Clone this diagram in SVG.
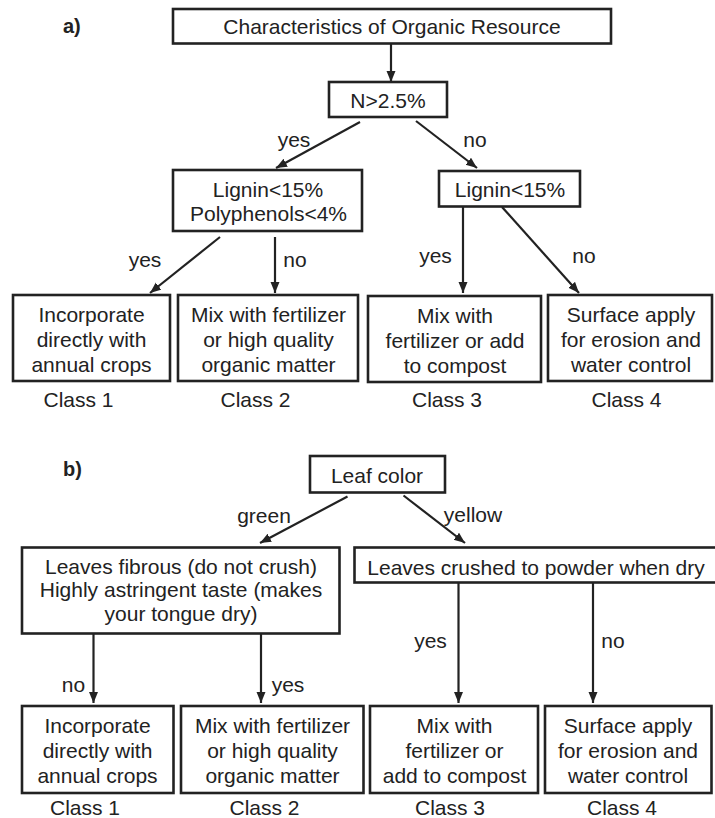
<svg xmlns="http://www.w3.org/2000/svg" width="715" height="818" viewBox="0 0 715 818">
<style>
  .box { fill: #fff; stroke: #222; stroke-width: 2.6; }
  .t { font-family: "Liberation Sans", Arial, sans-serif; font-size: 21px; fill: #222; text-anchor: middle; }
  .lbl { font-family: "Liberation Sans", Arial, sans-serif; font-size: 21px; fill: #222; text-anchor: middle; }
  .tag { font-family: "Liberation Sans", Arial, sans-serif; font-size: 20px; font-weight: bold; fill: #222; }
  .c { stroke: #222; stroke-width: 2.2; fill: none; marker-end: url(#ah); }
</style>
<defs>
  <marker id="ah" markerUnits="userSpaceOnUse" markerWidth="12" markerHeight="10" refX="11" refY="4.5" orient="auto">
    <path d="M0,0 L11,4.5 L0,9 z" fill="#222"/>
  </marker>
</defs>
<rect width="715" height="818" fill="#fff"/>

<text class="tag" x="63" y="33">a)</text>
<text class="tag" x="63" y="476">b)</text>

<g id="connectors">
  <line class="c" x1="391" y1="44" x2="391" y2="82"/>
  <line class="c" x1="360" y1="122" x2="276" y2="168"/>
  <line class="c" x1="416" y1="121" x2="477" y2="168"/>
  <line class="c" x1="220" y1="237" x2="150" y2="293"/>
  <line class="c" x1="275" y1="237" x2="275" y2="293"/>
  <line class="c" x1="463" y1="207" x2="463" y2="293"/>
  <line class="c" x1="502" y1="207" x2="579" y2="293"/>
  <line class="c" x1="347.5" y1="496.5" x2="260" y2="543"/>
  <line class="c" x1="403.5" y1="495.5" x2="465" y2="543"/>
  <line class="c" x1="93.5" y1="634" x2="93.5" y2="703"/>
  <line class="c" x1="261" y1="634" x2="261" y2="703"/>
  <line class="c" x1="458.5" y1="583" x2="458.5" y2="703"/>
  <line class="c" x1="593" y1="583" x2="593" y2="703"/>
  <text class="lbl" x="294" y="147">yes</text>
  <text class="lbl" x="475" y="147">no</text>
  <text class="lbl" x="145" y="267">yes</text>
  <text class="lbl" x="295" y="267">no</text>
  <text class="lbl" x="435.5" y="263">yes</text>
  <text class="lbl" x="584" y="263">no</text>
  <text class="lbl" x="264" y="523">green</text>
  <text class="lbl" x="473" y="522">yellow</text>
  <text class="lbl" x="73.5" y="692">no</text>
  <text class="lbl" x="288" y="692">yes</text>
  <text class="lbl" x="430.5" y="648">yes</text>
  <text class="lbl" x="613" y="648">no</text>
</g>

<g id="a_root">
  <rect class="box" x="173" y="9" width="438" height="34.5"/>
  <text class="t" x="392" y="33.5">Characteristics of Organic Resource</text>
</g>
<g id="a_n">
  <rect class="box" x="329" y="82" width="118" height="35"/>
  <text class="t" x="388" y="108">N&gt;2.5%</text>
</g>
<g id="a_lignin_left">
  <rect class="box" x="173" y="170" width="189" height="61"/>
  <text class="t" x="268" y="197">Lignin&lt;15%</text>
  <text class="t" x="268.5" y="221">Polyphenols&lt;4%</text>
</g>
<g id="a_lignin_right">
  <rect class="box" x="439" y="171" width="141" height="35.5"/>
  <text class="t" x="510" y="197">Lignin&lt;15%</text>
</g>
<g id="a_class1">
  <rect class="box" x="13" y="295" width="157" height="86"/>
  <text class="t" x="91.5" y="322">Incorporate</text>
  <text class="t" x="91.5" y="347">directly with</text>
  <text class="t" x="91.5" y="372">annual crops</text>
  <text class="t" x="78.5" y="407">Class 1</text>
</g>
<g id="a_class2">
  <rect class="box" x="178" y="295" width="180" height="86"/>
  <text class="t" x="268.5" y="322">Mix with fertilizer</text>
  <text class="t" x="268.5" y="347">or high quality</text>
  <text class="t" x="268.5" y="372">organic matter</text>
  <text class="t" x="255.5" y="407">Class 2</text>
</g>
<g id="a_class3">
  <rect class="box" x="368" y="296" width="173" height="86"/>
  <text class="t" x="455" y="323">Mix with</text>
  <text class="t" x="455" y="348">fertilizer or add</text>
  <text class="t" x="455" y="373">to compost</text>
  <text class="t" x="447" y="407">Class 3</text>
</g>
<g id="a_class4">
  <rect class="box" x="548" y="295" width="164" height="86"/>
  <text class="t" x="631" y="322">Surface apply</text>
  <text class="t" x="631" y="347">for erosion and</text>
  <text class="t" x="631" y="372">water control</text>
  <text class="t" x="626.5" y="407">Class 4</text>
</g>

<g id="b_root">
  <rect class="box" x="310" y="456" width="135" height="36.5"/>
  <text class="t" x="377" y="483">Leaf color</text>
</g>
<g id="b_left">
  <rect class="box" x="22" y="547.5" width="317.5" height="86"/>
  <text class="t" x="181" y="573.5">Leaves fibrous (do not crush)</text>
  <text class="t" x="181" y="597">Highly astringent taste (makes</text>
  <text class="t" x="181" y="620.5">your tongue dry)</text>
</g>
<g id="b_right">
  <rect class="box" x="354.5" y="547.5" width="366" height="35"/>
  <text class="t" x="536" y="574.5">Leaves crushed to powder when dry</text>
</g>
<g id="b_class1">
  <rect class="box" x="22" y="706" width="151.5" height="87"/>
  <text class="t" x="97.5" y="733">Incorporate</text>
  <text class="t" x="97.5" y="757.5">directly with</text>
  <text class="t" x="97.5" y="782.5">annual crops</text>
  <text class="t" x="85" y="815">Class 1</text>
</g>
<g id="b_class2">
  <rect class="box" x="181" y="706" width="182.5" height="87"/>
  <text class="t" x="272.5" y="733">Mix with fertilizer</text>
  <text class="t" x="272.5" y="757.5">or high quality</text>
  <text class="t" x="272.5" y="782.5">organic matter</text>
  <text class="t" x="264.5" y="815">Class 2</text>
</g>
<g id="b_class3">
  <rect class="box" x="370" y="706" width="168" height="87"/>
  <text class="t" x="454.5" y="733">Mix with</text>
  <text class="t" x="454.5" y="757.5">fertilizer or</text>
  <text class="t" x="454.5" y="782.5">add to compost</text>
  <text class="t" x="450" y="815">Class 3</text>
</g>
<g id="b_class4">
  <rect class="box" x="545" y="706" width="166.5" height="87"/>
  <text class="t" x="628" y="733">Surface apply</text>
  <text class="t" x="628" y="757.5">for erosion and</text>
  <text class="t" x="628" y="782.5">water control</text>
  <text class="t" x="622" y="815">Class 4</text>
</g>
</svg>
